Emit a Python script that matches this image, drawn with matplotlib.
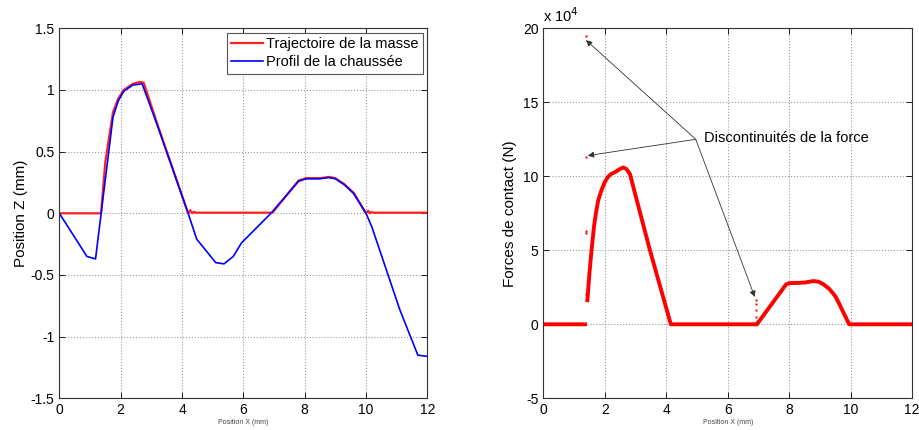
import numpy as np
import matplotlib
matplotlib.use("Agg")
import matplotlib.pyplot as plt
from matplotlib.ticker import FuncFormatter

plt.rcParams['font.family'] = ['Liberation Sans', 'DejaVu Sans']

# Profil de la chaussée (mm)
profil_x = [0, 0.9, 1.18, 1.75, 1.92, 2.1, 2.4, 2.7, 3.2, 4.2, 4.48, 5.1, 5.37, 5.67, 5.94,
            6.9, 7.8, 8.05, 8.5, 8.77, 9.0, 9.3, 9.6, 10.0, 10.19, 11.1, 11.69, 12.0]
profil_z = [0, -0.35, -0.37, 0.78, 0.91, 0.99, 1.04, 1.05, 0.71, 0.0, -0.21, -0.40, -0.41, -0.35, -0.24,
            0.0, 0.26, 0.28, 0.28, 0.29, 0.28, 0.23, 0.16, 0.0, -0.11, -0.78, -1.15, -1.16]

# Trajectoire de la masse (mm)
masse_x = [0, 1.36, 1.5, 1.75, 1.92, 2.1, 2.4, 2.62, 2.75, 3.2, 4.2, 4.27, 4.33, 4.38, 4.45, 6.95,
           7.8, 8.05, 8.5, 8.8, 9.0, 9.3, 9.6, 10.0, 10.07, 10.12, 10.17, 10.25, 12.0]
masse_z = [0, 0, 0.42, 0.82, 0.93, 1.00, 1.05, 1.065, 1.06, 0.72, 0.0, 0.025, 0.0, 0.012, 0.005, 0.005,
           0.265, 0.285, 0.285, 0.295, 0.285, 0.235, 0.165, 0.0, 0.02, 0.0, 0.01, 0.005, 0.005]

# Forces de contact (N)
force_x = [0, 1.42, np.nan, 1.43, 1.5, 1.57, 1.65, 1.72, 1.79, 1.9, 2.0, 2.1, 2.2, 2.35, 2.5,
           2.6, 2.7, 2.82, 3.47, 4.15, 6.95, 7.9, 8.0, 8.3, 8.5, 8.78, 8.95, 9.1, 9.3, 9.5,
           9.6, 9.95, 12.0]
force_f = [0, 0, np.nan, 1.5e4, 3.4e4, 5.0e4, 6.6e4, 7.6e4, 8.4e4, 9.1e4, 9.6e4, 9.95e4, 10.15e4,
           10.3e4, 10.5e4, 10.6e4, 10.5e4, 10.15e4, 5.0e4, 0, 0, 2.7e4, 2.78e4, 2.8e4, 2.82e4,
           2.92e4, 2.88e4, 2.72e4, 2.4e4, 1.9e4, 1.5e4, 0, 0]

# Points isolés (discontinuités)
disc_x = [1.39, 1.39, 1.38, 1.40, 1.40, 6.91, 6.92, 6.93, 6.93, 6.94]
disc_f = [19.45e4, 11.3e4, 6.3e4, 6.15e4, 2.05e4, 1.65e4, 1.35e4, 1.0e4, 0.5e4, 0.25e4]

# Cibles des flèches
arrow_x = [1.39, 1.45, 6.88]
arrow_f = [19.2e4, 11.4e4, 1.85e4]

fig = plt.figure(figsize=(9.2, 4.3), dpi=100)
ax1 = fig.add_axes([0.0645, 0.0737, 0.4, 0.8605])
ax2 = fig.add_axes([0.5905, 0.0737, 0.401, 0.8605])

for ax in (ax1, ax2):
    ax.grid(True, linestyle=':', color='#9a9a9a', linewidth=0.8)
    ax.tick_params(direction='in', top=True, right=True, labelsize=10, length=4, width=0.6)
    for sp in ax.spines.values():
        sp.set_linewidth(0.8)
        sp.set_color('#333333')
    ax.set_xlim(0, 12)
    ax.set_xticks(range(0, 13, 2))
    ax.set_xlabel("Position X (mm)", fontsize=5, color='#444444', labelpad=1)

ax1.plot(masse_x, masse_z, color='#ff2020', lw=1.6, label='Trajectoire de la masse')
ax1.plot(profil_x, profil_z, color='blue', lw=1.2, label='Profil de la chaussée')
ax1.set_ylim(-1.5, 1.5)
ax1.set_yticks(np.arange(-1.5, 1.51, 0.5))
ax1.yaxis.set_major_formatter(FuncFormatter(lambda v, _: f'{v:g}'))
ax1.set_ylabel("Position Z (mm)", fontsize=11, labelpad=2)
leg = ax1.legend(loc='upper right', fontsize=10.5, fancybox=False, framealpha=1,
                 edgecolor='#555555', borderpad=0.3, handlelength=2.2, handletextpad=0.2,
                 borderaxespad=0.3, labelspacing=0.3)
leg.get_frame().set_linewidth(0.8)

ax2.plot(force_x, force_f, color='red', lw=2.8, solid_capstyle='butt', solid_joinstyle='round')
ax2.plot(disc_x, disc_f, 's', color='red', ms=1.5, mec='none')
ax2.set_ylim(-5e4, 20e4)
ax2.set_yticks(np.arange(-5e4, 20.1e4, 5e4))
ax2.yaxis.set_major_formatter(FuncFormatter(lambda v, _: f'{v/1e4:g}'))
ax2.set_ylabel("Forces de contact (N)", fontsize=11, labelpad=4)
ax2.text(0.0, 1.01, r'x 10$^4$', transform=ax2.transAxes, fontsize=10.5, ha='left', va='bottom')

ax2.text(5.24, 12.6e4, "Discontinuités de la force", fontsize=10.5, va='center', ha='left')
for tx, tf in zip(arrow_x, arrow_f):
    ax2.annotate("", xy=(tx, tf), xytext=(4.96, 12.5e4),
                 arrowprops=dict(arrowstyle='-|>', color='#333333', lw=0.6,
                                 mutation_scale=9, shrinkA=0, shrinkB=0))

fig.savefig("out.png", dpi=100)
